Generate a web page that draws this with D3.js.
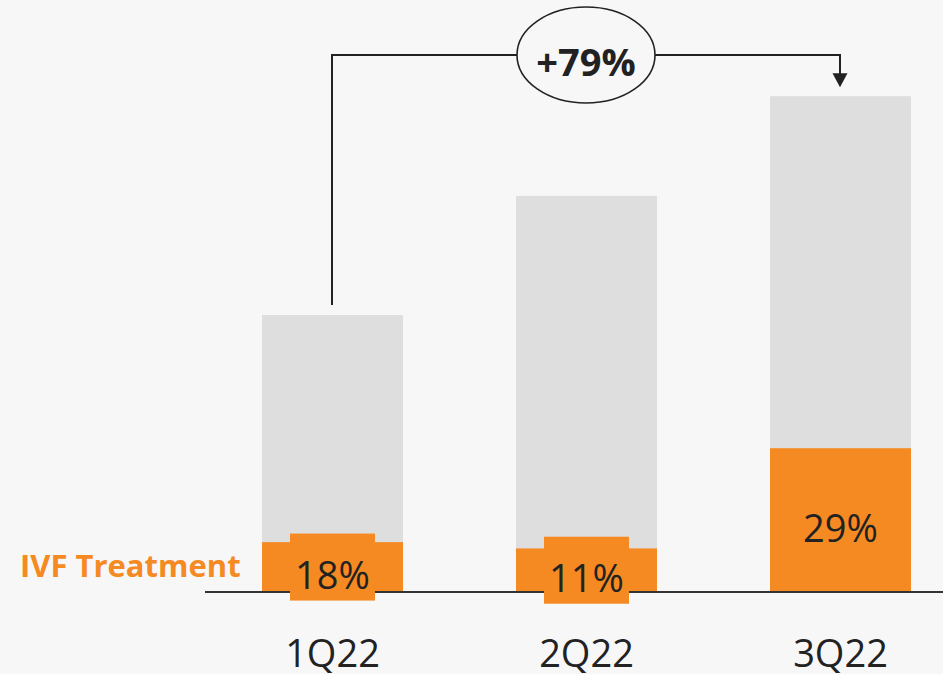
<!DOCTYPE html>
<html>
<head>
<meta charset="utf-8">
<script src="https://cdn.jsdelivr.net/npm/d3@7/dist/d3.min.js"></script>
<style>
  html, body { margin: 0; padding: 0; background: #f7f7f7; }
  svg { display: block; }
</style>
</head>
<body>
<svg id="chart" width="943" height="674"></svg>
<script>
// Quarterly volume, indexed to 1Q22 = 100
const quarters = ["1Q22", "2Q22", "3Q22"];
const totals = [100, 143, 179];
// Share of each quarter that is IVF treatment
const ivfShare = [0.18, 0.11, 0.29];
const ivfLabels = ["18%", "11%", "29%"];
const growthLabel = "+79%";
const seriesLabel = "IVF Treatment";

const svg = d3.select("#chart");
const W = 943, H = 674;
const baseY = 592;
const font = "'Open Sans', 'Noto Sans', sans-serif";
const orange = "#f58a22";
const grey = "#dedede";
const ink = "#222222";

svg.append("rect").attr("width", W).attr("height", H).attr("fill", "#f7f7f7");

const x = d3.scaleBand()
  .domain(quarters)
  .range([205.5, 967.5])
  .paddingInner(0.445)
  .paddingOuter(0.2225);

const y = d3.scaleLinear()
  .domain([0, 200])
  .range([baseY, baseY - 554]);

const data = quarters.map((q, i) => ({
  q, total: totals[i], ivf: totals[i] * ivfShare[i], label: ivfLabels[i]
}));

// total bars
svg.selectAll("rect.total").data(data).join("rect")
  .attr("class", "total")
  .attr("x", d => x(d.q))
  .attr("width", x.bandwidth())
  .attr("y", d => y(d.total))
  .attr("height", d => y(0) - y(d.total))
  .attr("fill", grey);

// IVF portion
svg.selectAll("rect.ivf").data(data).join("rect")
  .attr("class", "ivf")
  .attr("x", d => x(d.q))
  .attr("width", x.bandwidth())
  .attr("y", d => y(d.ivf))
  .attr("height", d => y(0) - y(d.ivf))
  .attr("fill", orange);

// baseline
svg.append("line")
  .attr("x1", 205).attr("x2", W)
  .attr("y1", baseY).attr("y2", baseY)
  .attr("stroke", "#333").attr("stroke-width", 2);

// value labels; short segments get an orange tag behind the text
const labelG = svg.selectAll("g.val").data(data).join("g").attr("class", "val");
labelG.each(function(d) {
  const g = d3.select(this);
  const cx = x(d.q) + x.bandwidth() / 2;
  const segH = y(0) - y(d.ivf);
  const mid = (y(d.ivf) + baseY) / 2;
  if (segH < 60) {
    g.append("rect")
      .attr("x", cx - 42.5).attr("width", 85)
      .attr("y", mid - 33.5).attr("height", 67)
      .attr("fill", orange);
  }
  g.append("text")
    .attr("x", cx).attr("y", mid + 22)
    .attr("text-anchor", "middle")
    .attr("font-family", font)
    .attr("font-size", 38)
    .attr("fill", ink)
    .text(d.label);
});

// category labels
const xAxis = svg.append("g")
  .attr("transform", `translate(0,${baseY})`)
  .call(d3.axisBottom(x).tickSize(0).tickPadding(0));
xAxis.select(".domain").remove();
xAxis.selectAll("text")
  .attr("y", 75)
  .attr("dy", 0)
  .attr("font-family", font)
  .attr("font-size", 38)
  .attr("fill", ink);

// series label
svg.append("text")
  .attr("x", 20).attr("y", 577)
  .attr("font-family", font)
  .attr("font-size", 31)
  .attr("font-weight", 700)
  .attr("fill", orange)
  .text(seriesLabel);

// growth connector from first to last bar
const x0 = x(quarters[0]) + x.bandwidth() / 2 - 0.5;
const x1 = x(quarters[2]) + x.bandwidth() / 2 - 0.5;
const topY = 55;
const tipY = y(totals[2]) - 9;
svg.append("path")
  .attr("d", `M${x0},${y(totals[0]) - 10}V${topY}H${x1}V${tipY - 12}`)
  .attr("fill", "none")
  .attr("stroke", ink)
  .attr("stroke-width", 2);
svg.append("path")
  .attr("d", `M${x1 - 7.5},${tipY - 14}L${x1 + 7.5},${tipY - 14}L${x1},${tipY}Z`)
  .attr("fill", ink);

const ecx = (x0 + x1) / 2;
svg.append("ellipse")
  .attr("cx", ecx).attr("cy", topY)
  .attr("rx", 69).attr("ry", 48)
  .attr("fill", "#f7f7f7")
  .attr("stroke", ink)
  .attr("stroke-width", 1.6);
svg.append("text")
  .attr("x", ecx).attr("y", topY + 21)
  .attr("text-anchor", "middle")
  .attr("font-family", font)
  .attr("font-size", 38)
  .attr("font-weight", 700)
  .attr("fill", ink)
  .text(growthLabel);
</script>
</body>
</html>
